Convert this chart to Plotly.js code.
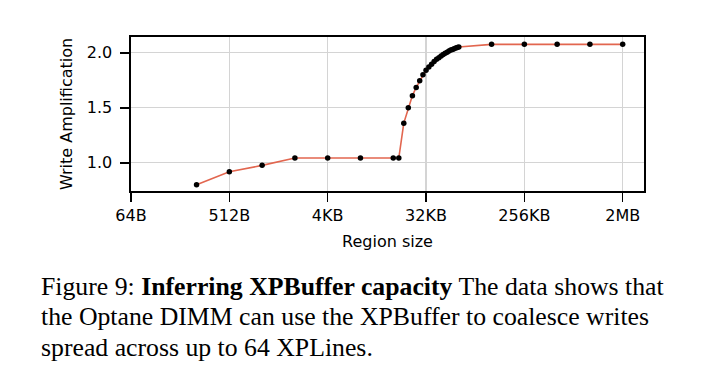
<!DOCTYPE html>
<html>
<head>
<meta charset="utf-8">
<script src="https://cdn.plot.ly/plotly-3.0.1.min.js"></script>
<style>html,body{margin:0;padding:0;background:#fff;}#chart{width:724px;height:379px;}</style>
</head>
<body>
<div id="chart"></div>
<script>
// Region sizes in KB
const regionKB = [0.25, 0.5, 1, 2, 4, 8, 16, 18, 20, 22, 24, 26, 28, 30, 32, 34, 36, 38, 40, 42, 44, 46, 48, 50, 52, 54, 56, 58, 60, 62, 64, 128, 256, 512, 1024, 2048];
const writeAmp = [0.80, 0.918, 0.976, 1.043, 1.043, 1.043, 1.043, 1.043, 1.36, 1.50, 1.61, 1.685, 1.745, 1.80, 1.84, 1.87, 1.895, 1.92, 1.94, 1.955, 1.97, 1.985, 1.995, 2.005, 2.015, 2.025, 2.03, 2.037, 2.043, 2.048, 2.052, 2.076, 2.076, 2.076, 2.076, 2.076];
const tickBytes = [64, 512, 4096, 32768, 262144, 2097152];
const tickLabels = ['64B', '512B', '4KB', '32KB', '256KB', '2MB'];
const yTicks = [1.0, 1.5, 2.0];
const yTickLabels = ['1.0', '1.5', '2.0'];

const xBytes = regionKB.map(k => k * 1024);

const trace = {
  x: xBytes, y: writeAmp, type: 'scatter', mode: 'lines+markers',
  line: {color: '#e2664f', width: 1.6},
  marker: {color: '#000000', size: 5.5},
  hoverinfo: 'x+y'
};

const capFont = {family: 'Liberation Serif, Times New Roman, serif', size: 25.75, color: '#000'};
const capX = (39 - 131) / 513;
const layout = {
  width: 724, height: 379,
  margin: {l: 131, r: 80, t: 37, b: 188},
  paper_bgcolor: '#fff', plot_bgcolor: '#fff',
  showlegend: false,
  font: {family: 'DejaVu Sans, sans-serif', size: 16, color: '#000'},
  xaxis: {
    type: 'log', range: [Math.log10(64), 21.65 * Math.log10(2)],
    tickvals: tickBytes, ticktext: tickLabels,
    showgrid: true, gridcolor: '#d4d4d4', gridwidth: 1.5,
    showline: true, linecolor: '#000', linewidth: 1.6, mirror: true,
    ticks: 'outside', ticklen: 9, tickwidth: 1.6, tickcolor: '#000',
    zeroline: false,
    title: {text: 'Region size', font: {size: 16}, standoff: 12}
  },
  yaxis: {
    range: [0.743, 2.143],
    tickvals: yTicks, ticktext: yTickLabels,
    showgrid: true, gridcolor: '#d4d4d4', gridwidth: 1.5,
    showline: true, linecolor: '#000', linewidth: 1.6, mirror: true,
    ticks: 'outside', ticklen: 9, tickwidth: 1.6, tickcolor: '#000',
    ticklabelstandoff: 5,
    zeroline: false,
    title: {text: 'Write Amplification', font: {size: 16}, standoff: 10}
  },
  annotations: [
    {xref: 'paper', yref: 'paper', x: capX, y: (191 - 286) / 154, xanchor: 'left', yanchor: 'middle', showarrow: false, align: 'left', font: capFont,
     text: 'Figure 9: <b>Inferring XPBuffer capacity</b> The data shows that'},
    {xref: 'paper', yref: 'paper', x: capX, y: (191 - 316.5) / 154, xanchor: 'left', yanchor: 'middle', showarrow: false, align: 'left', font: capFont,
     text: 'the Optane DIMM can use the XPBuffer to coalesce writes'},
    {xref: 'paper', yref: 'paper', x: capX, y: (191 - 347) / 154, xanchor: 'left', yanchor: 'middle', showarrow: false, align: 'left', font: capFont,
     text: 'spread across up to 64 XPLines.'}
  ]
};

Plotly.newPlot('chart', [trace], layout, {displayModeBar: false, staticPlot: true});
</script>
</body>
</html>
